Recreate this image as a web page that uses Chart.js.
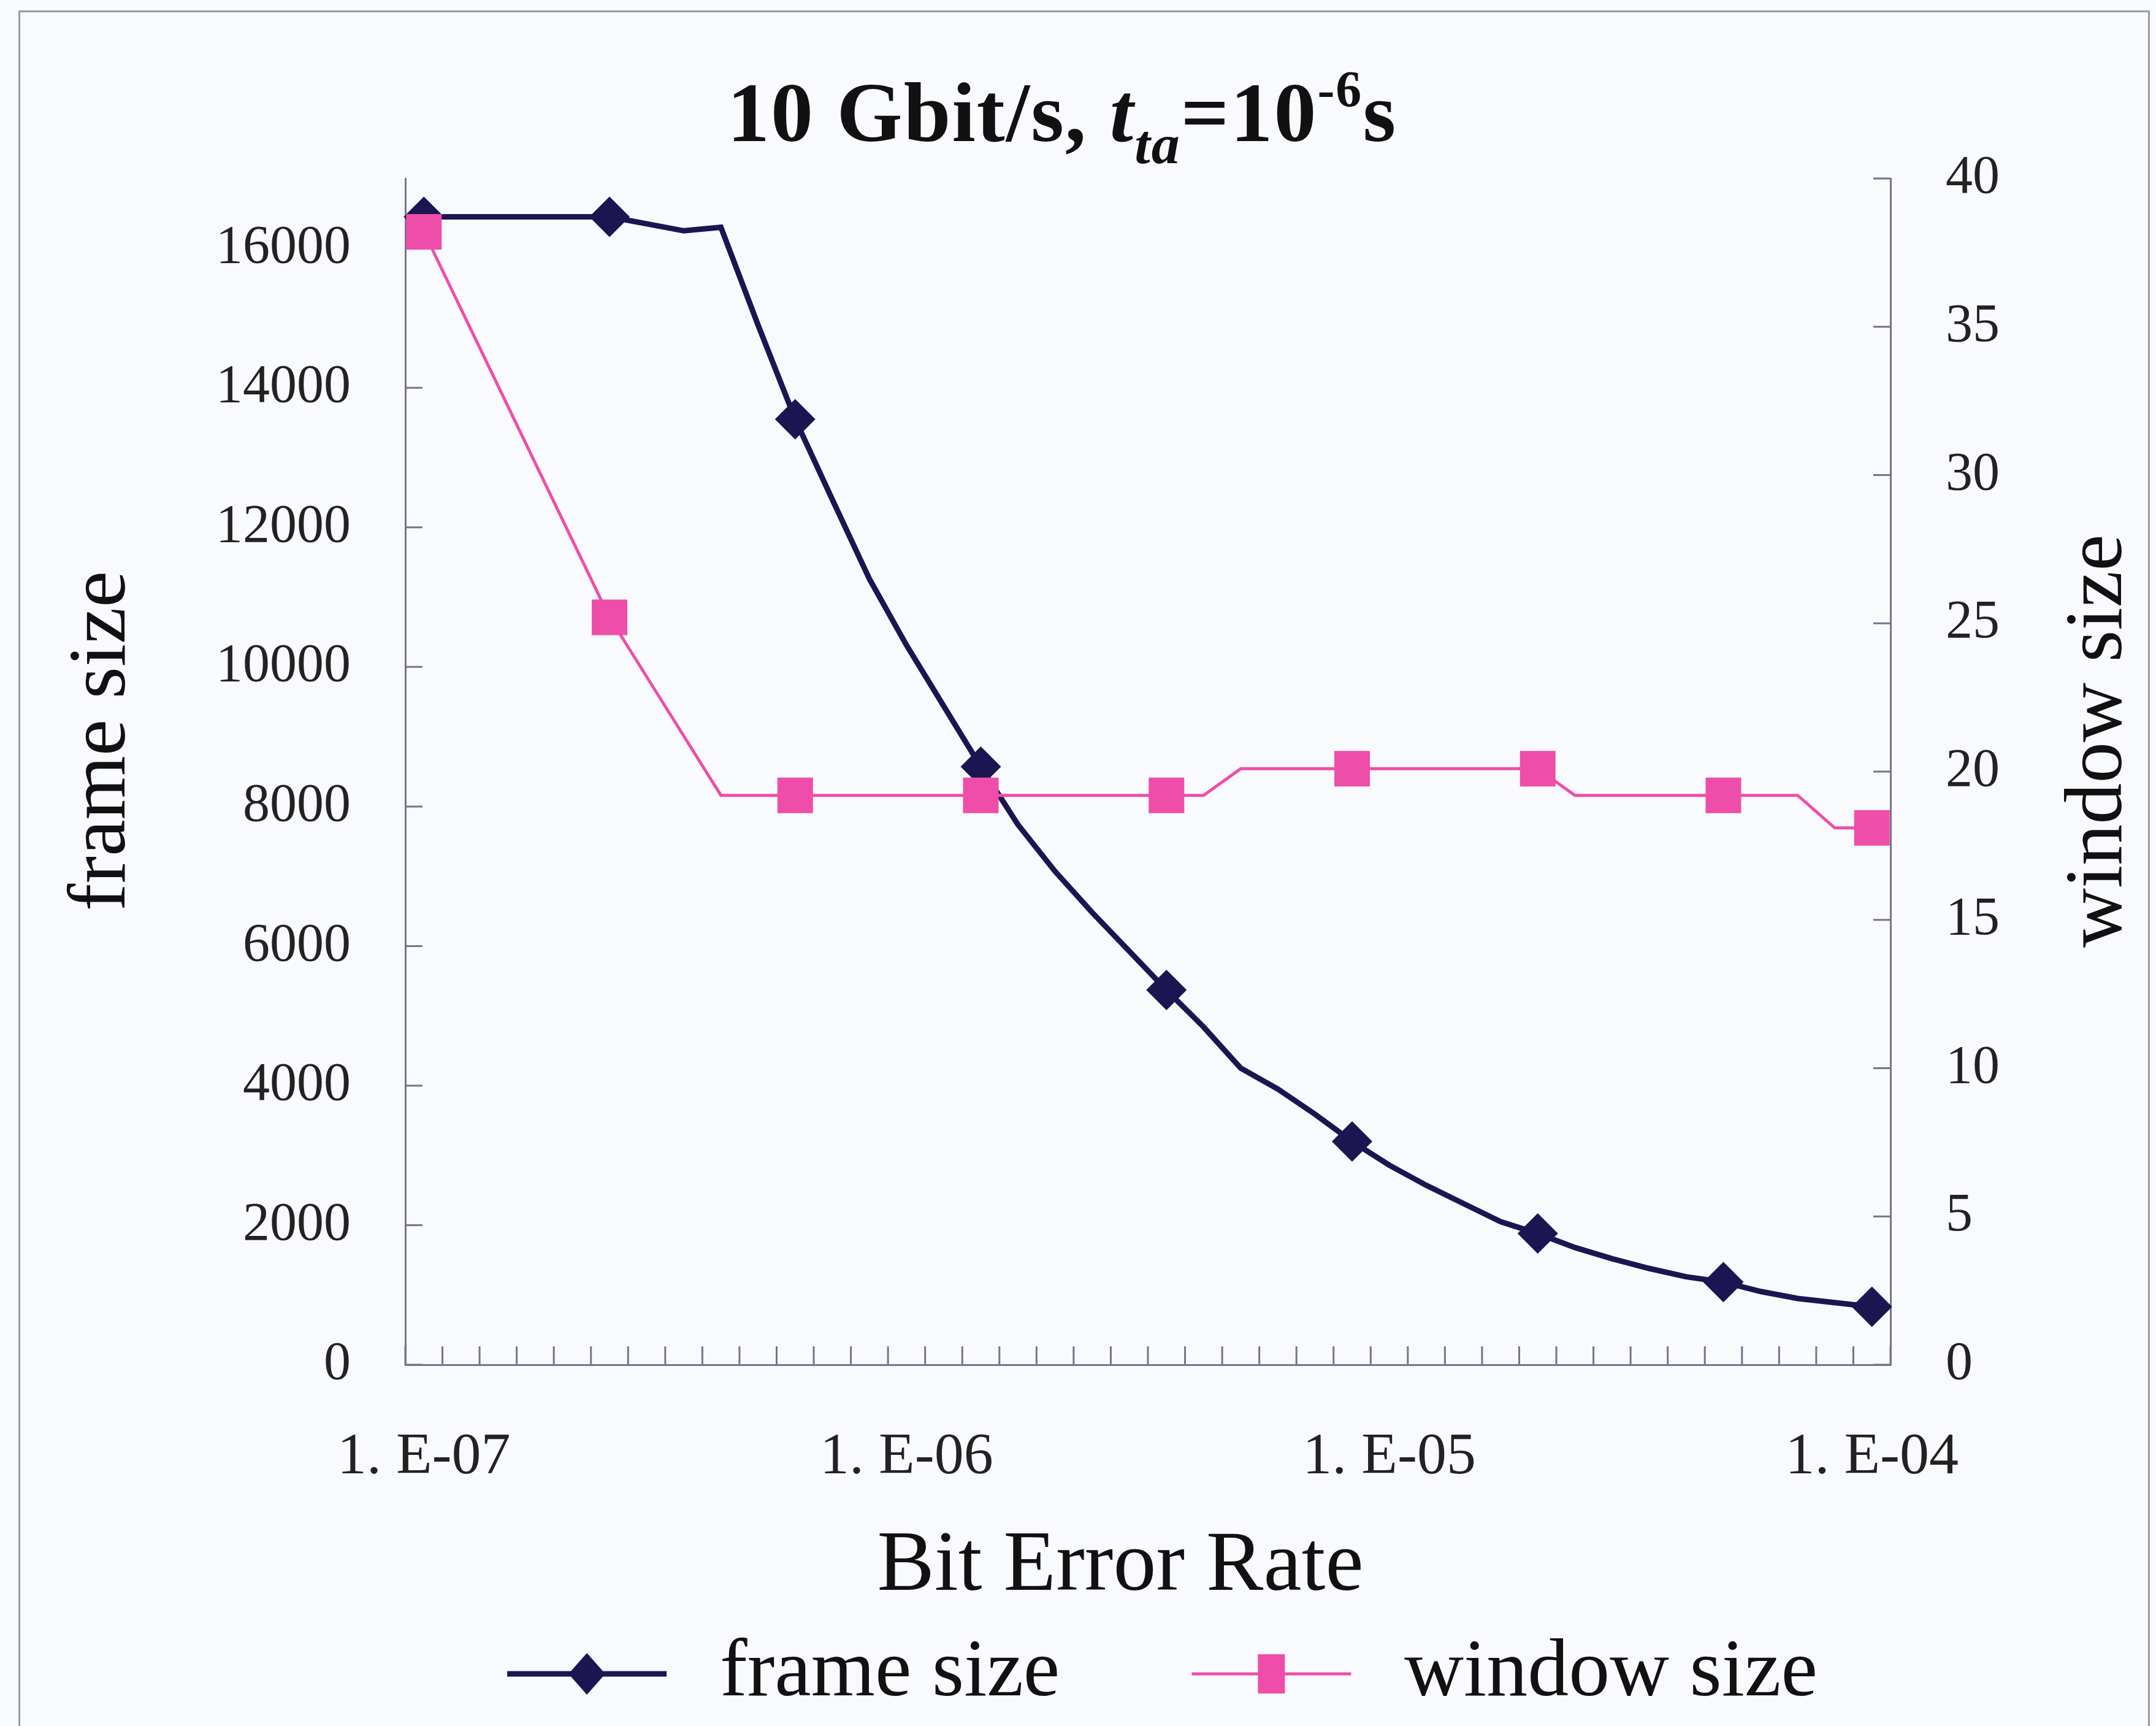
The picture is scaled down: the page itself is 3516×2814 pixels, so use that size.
<!DOCTYPE html>
<html lang="en">
<head>
<meta charset="UTF-8">
<title>Frame size and window size vs bit error rate</title>
<script src="https://cdn.jsdelivr.net/npm/chart.js@4.4.1/dist/chart.umd.min.js"></script>
<style>
  html, body { margin: 0; padding: 0; background: #f8fafd; }
  #wrap { position: relative; width: 3516px; height: 2814px; overflow: hidden; }
  #frame { position: absolute; left: 30px; top: 17px; width: 3470px; height: 2900px; border: 3px solid #9a98a8; }
  #title { position: absolute; left: 0; top: 115px; width: 3464px; text-align: center;
           font: bold 138px "Liberation Serif", serif; line-height: 138px; color: #111; white-space: nowrap;
           letter-spacing: 2px; }
  #title i { font-style: italic; }
  #title .sub { font-size: 92px; position: relative; top: 36px; }
  #title .sup { font-size: 84px; position: relative; top: -56px; }
  canvas { position: absolute; left: 0; top: 0; }
</style>
</head>
<body>
<div id="wrap">
  <div id="frame"></div>
  <canvas id="chart" width="3516" height="2814"></canvas>
  <div id="title">10 Gbit/s, <i>t</i><i class="sub">ta</i>=10<span class="sup">-6</span>s</div>
</div>

<script>
  /* Bit error rate categories (13 steps per decade). */
  const categories = [
    '1.0E-07','1.2E-07','1.4E-07','1.7E-07','2.0E-07','2.4E-07','2.9E-07','3.5E-07','4.1E-07','4.9E-07','5.9E-07','7.0E-07','8.4E-07',
    '1.0E-06','1.2E-06','1.4E-06','1.7E-06','2.0E-06','2.4E-06','2.9E-06','3.5E-06','4.1E-06','4.9E-06','5.9E-06','7.0E-06','8.4E-06',
    '1.0E-05','1.2E-05','1.4E-05','1.7E-05','2.0E-05','2.4E-05','2.9E-05','3.5E-05','4.1E-05','4.9E-05','5.9E-05','7.0E-05','8.4E-05',
    '1.0E-04'
  ]

  /* Series values. */
  const frameSize = [
    16450, 16450, 16450, 16450, 16450, 16450, 16350, 16250, 16300, 14900,
    13550, 12400, 11260, 10310, 9440, 8570, 7740, 7070, 6480, 5925,
    5370, 4840, 4250, 3950, 3590, 3200, 2860, 2570, 2310, 2050,
    1880, 1680, 1520, 1380, 1260, 1185, 1050, 950, 890, 830
  ]
  const windowSize = [
    38.2, 35.6, 33.0, 30.4, 27.8, 25.2, 23.2, 21.2, 19.2, 19.2,
    19.2, 19.2, 19.2, 19.2, 19.2, 19.2, 19.2, 19.2, 19.2, 19.2,
    19.2, 19.2, 20.1, 20.1, 20.1, 20.1, 20.1, 20.1, 20.1, 20.1,
    20.1, 19.2, 19.2, 19.2, 19.2, 19.2, 19.2, 19.2, 18.1, 18.1
  ]

  /* Which points carry a marker, and the axis ticks. */
  const markerIdx = [0, 5, 10, 15, 20, 25, 30, 35, 39]
  const xTickIdx = [0, 13, 26, 39]
  const xTickText = ['1. E-07', '1. E-06', '1. E-05', '1. E-04']
  const leftTicks = [0, 2000, 4000, 6000, 8000, 10000, 12000, 14000, 16000]
  const rightTicks = [0, 5, 10, 15, 20, 25, 30, 35, 40]

  const leftTitle = 'frame size'
  const rightTitle = 'window size'
  const xTitle = 'Bit Error Rate'

  const navy = '#1b1652'
  const pink = '#ee4ea9'
  const axisColor = '#77748a'
  const serif = '"Liberation Serif", serif'

  Chart.defaults.font.family = serif
  Chart.defaults.color = '#1a1a1a'

  /* Legend icons: a short line with the marker in the middle. */
  function legendIcon(color, lineWidth, drawMarker) {
    const c = document.createElement('canvas')
    c.width = 480
    c.height = 90
    const g = c.getContext('2d')
    g.strokeStyle = color
    g.lineWidth = lineWidth
    g.beginPath()
    g.moveTo(200, 45)
    g.lineTo(460, 45)
    g.stroke()
    g.fillStyle = color
    drawMarker(g, 330, 45)
    return c
  }
  const legendIcons = [
    legendIcon(navy, 9, (g, x, y) => {
      g.beginPath(); g.moveTo(x, y - 34); g.lineTo(x + 30, y); g.lineTo(x, y + 34); g.lineTo(x - 30, y); g.closePath(); g.fill()
    }),
    legendIcon(pink, 5, (g, x, y) => { g.fillRect(x - 22, y - 32, 44, 64) })
  ]

  /* Excel-like inward tick marks and axis titles. */
  const excelAxes = {
    id: 'excelAxes',
    beforeDatasetsDraw(chart) {
      const {ctx, chartArea, scales} = chart
      ctx.save()
      ctx.strokeStyle = axisColor
      ctx.lineWidth = 3
      ctx.beginPath()
      for (let i = 0; i <= categories.length; i++) {
        const px = scales.x.getPixelForValue(i - 0.5)
        ctx.moveTo(px, chartArea.bottom)
        ctx.lineTo(px, chartArea.bottom - 30)
      }
      scales.y.ticks.forEach(t => {
        const py = scales.y.getPixelForValue(t.value)
        ctx.moveTo(chartArea.left, py)
        ctx.lineTo(chartArea.left + 28, py)
      })
      scales.y1.ticks.forEach(t => {
        const py = scales.y1.getPixelForValue(t.value)
        ctx.moveTo(chartArea.right, py)
        ctx.lineTo(chartArea.right - 28, py)
      })
      ctx.stroke()
      ctx.restore()
    },
    afterDraw(chart) {
      const {ctx, chartArea, scales} = chart
      const midY = (chartArea.top + chartArea.bottom) / 2 - 50
      const midX = (chartArea.left + chartArea.right) / 2 - 45
      ctx.save()
      ctx.fillStyle = '#111'
      ctx.textAlign = 'center'
      ctx.textBaseline = 'middle'
      ctx.font = '134px ' + serif
      const titles = [[scales.y.left + 81, leftTitle], [scales.y1.right - 80, rightTitle]]
      titles.forEach(([x, text]) => {
        ctx.save()
        ctx.translate(x, midY)
        ctx.rotate(-Math.PI / 2)
        ctx.fillText(text, 0, 0)
        ctx.restore()
      })
      ctx.font = '140px ' + serif
      ctx.fillText(xTitle, midX, scales.x.bottom - 92)
      ctx.restore()
    }
  }

  const ctx = document.getElementById('chart').getContext('2d')

  const myChart = new Chart(ctx, {
    type: 'line',
    data: {
      labels: categories,
      datasets: [{
        label: 'frame size',
        data: frameSize,
        yAxisID: 'y',
        borderColor: navy,
        backgroundColor: navy,
        borderWidth: 9,
        pointStyle: 'rectRot',
        pointRadius: categories.map((c, i) => markerIdx.includes(i) ? 33 : 0),
        pointBorderWidth: 0,
        tension: 0,
        order: 1,
        clip: false
      }, {
        label: 'window size',
        data: windowSize,
        yAxisID: 'y1',
        borderColor: pink,
        backgroundColor: pink,
        borderWidth: 5,
        pointStyle: 'rect',
        pointRadius: categories.map((c, i) => markerIdx.includes(i) ? 41 : 0),
        pointBorderWidth: 0,
        tension: 0,
        order: 0,
        clip: false
      }]
    },
    options: {
      responsive: false,
      animation: false,
      layout: { padding: { left: 87, right: 12, top: 291, bottom: 8 } },
      plugins: {
        title: { display: false },
        tooltip: { enabled: false },
        legend: {
          position: 'bottom',
          labels: {
            usePointStyle: true,
            pointStyleWidth: 480,
            padding: 15,
            color: '#111',
            font: { size: 134 },
            sort: (a, b) => a.datasetIndex - b.datasetIndex,
            generateLabels(chart) {
              return Chart.defaults.plugins.legend.labels.generateLabels(chart)
                .map(l => ({...l, pointStyle: legendIcons[l.datasetIndex]}))
            }
          }
        }
      },
      scales: {
        x: {
          type: 'category',
          offset: true,
          grid: { drawOnChartArea: false, drawTicks: false, offset: true },
          border: { color: axisColor, width: 3 },
          ticks: {
            autoSkip: false,
            maxRotation: 0,
            padding: 94,
            color: '#222',
            font: { size: 96 },
            callback: function(value, index) {
              const k = xTickIdx.indexOf(index)
              return k >= 0 ? xTickText[k] : ''
            }
          },
          afterFit: s => { s.height = 422 }
        },
        y: {
          position: 'left',
          min: 0,
          max: 17000,
          grid: { drawOnChartArea: false, drawTicks: false },
          border: { color: axisColor, width: 3 },
          ticks: { padding: 89, color: '#222', font: { size: 88 }, callback: v => String(v) },
          afterBuildTicks: s => { s.ticks = leftTicks.map(v => ({ value: v })) },
          afterFit: s => { s.width = 574 }
        },
        y1: {
          position: 'right',
          min: 0,
          max: 40,
          grid: { drawOnChartArea: false, drawTicks: false },
          border: { color: axisColor, width: 3 },
          ticks: { padding: 90, color: '#222', font: { size: 88 }, callback: v => String(v) },
          afterBuildTicks: s => { s.ticks = rightTicks.map(v => ({ value: v })) },
          afterFit: s => { s.width = 421 }
        }
      }
    },
    plugins: [excelAxes]
  })
</script>
</body>
</html>
